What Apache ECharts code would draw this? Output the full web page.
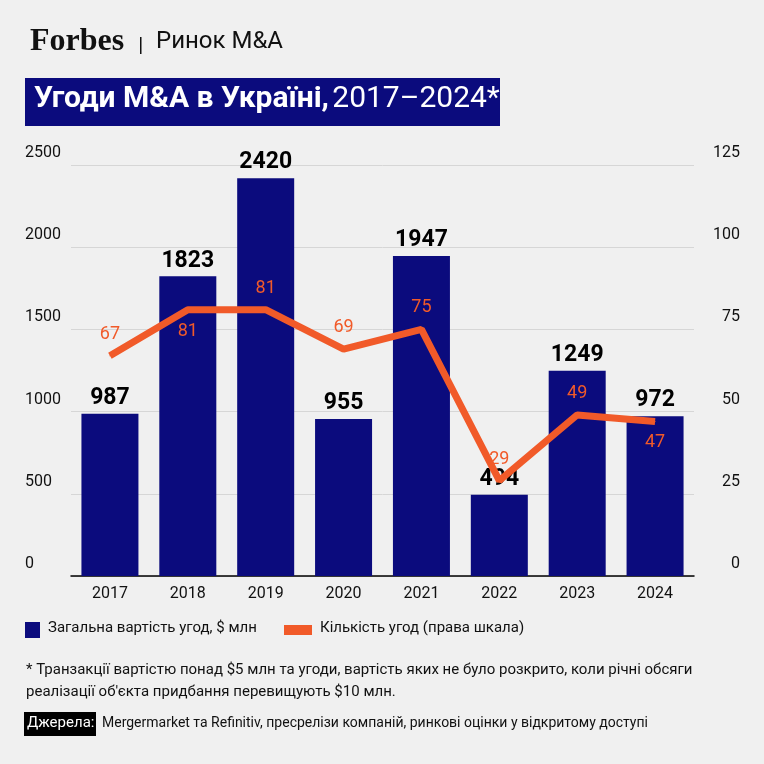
<!DOCTYPE html>
<html><head><meta charset="utf-8">
<script src="https://cdn.jsdelivr.net/npm/echarts@6/dist/echarts.min.js"></script>
<style>html,body{margin:0;background:#f0f0f0}#c{width:764px;height:764px}</style>
</head><body><div id="c"></div>
<script>
const years = ['2017','2018','2019','2020','2021','2022','2023','2024'];
const dealValue = [987, 1823, 2420, 955, 1947, 494, 1249, 972];
const dealCount = [67, 81, 81, 69, 75, 29, 49, 47];
const countLabelPos = ['top','bottom','top','top','top','top','top','bottom'];

const chart = echarts.init(document.getElementById('c'));
const F = 'Roboto, sans-serif';

chart.setOption({
  backgroundColor: '#f0f0f0',
  animation: false,
  grid: {left: 71, right: 70, top: 165, bottom: 188},
  xAxis: {
    type: 'category', data: years,
    axisLine: {lineStyle: {color: '#000', width: 1.5}},
    axisTick: {show: false},
    axisLabel: {color: '#111', fontSize: 16, fontFamily: F, margin: 10}
  },
  yAxis: [{
    type: 'value', min: 0, max: 2500, interval: 500,
    axisLabel: {color: '#111', fontSize: 16, fontFamily: F, align: 'left', margin: 46, verticalAlign: 'bottom', padding: [0,0,4,0], formatter: v => String(v)},
    splitLine: {lineStyle: {color: '#d6d6d6'}}
  }, {
    type: 'value', min: 0, max: 125, interval: 25,
    axisLabel: {color: '#111', fontSize: 16, fontFamily: F, align: 'right', margin: 46, verticalAlign: 'bottom', padding: [0,0,4,0]},
    splitLine: {show: false}
  }],
  series: [{
    type: 'bar', data: dealValue, barWidth: 57,
    itemStyle: {color: '#0b0b7d'},
    label: {show: true, position: 'top', distance: 4, color: '#000', fontSize: 23, fontWeight: 'bold', fontFamily: F}
  }, {
    type: 'line', yAxisIndex: 1, symbol: 'circle', symbolSize: 1, showSymbol: true,
    itemStyle: {color: '#f15a29'},
    data: dealCount.map((v, i) => ({value: v, label: {position: countLabelPos[i]}})),
    lineStyle: {color: '#f15a29', width: 7},
    label: {show: true, distance: 12, color: '#f15a29', fontSize: 18, fontFamily: F}
  }],
  graphic: [
    {type: 'text', left: 30, top: 26, style: {text: 'Forbes', font: 'bold 32px "Liberation Serif", serif', fill: '#111'}},
    {type: 'rect', left: 140, top: 37, shape: {width: 1.5, height: 17}, style: {fill: '#111'}},
    {type: 'text', left: 156, top: 30, style: {text: 'Ринок M&A', font: '24px Roboto, sans-serif', fill: '#111'}},
    {type: 'rect', left: 25, top: 78, shape: {width: 475, height: 48}, style: {fill: '#0b0b7d'}},
    {type: 'text', left: 34, top: 84, style: {rich: {
      b: {font: 'bold 30px Roboto, sans-serif', fill: '#fff'},
      r: {font: '30px Roboto, sans-serif', fill: '#fff'}
    }, text: '{b|Угоди M&A в Україні,} {r|2017–2024*}'}},
    {type: 'rect', left: 25, top: 622, shape: {width: 15, height: 16}, style: {fill: '#0b0b7d'}},
    {type: 'text', left: 48, top: 621, style: {text: 'Загальна вартість угод, $ млн', font: '15px Roboto, sans-serif', fill: '#111'}},
    {type: 'rect', left: 284, top: 625, shape: {width: 28, height: 10}, style: {fill: '#f15a29'}},
    {type: 'text', left: 320, top: 621, style: {text: 'Кількість угод (права шкала)', font: '15px Roboto, sans-serif', fill: '#111'}},
    {type: 'text', left: 26, top: 659, style: {text: '* Транзакції вартістю понад $5 млн та угоди, вартість яких не було розкрито, коли річні обсяги\nреалізації об\'єкта придбання перевищують $10 млн.', font: '15px Roboto, sans-serif', fill: '#111', lineHeight: 22}},
    {type: 'rect', left: 24, top: 712, shape: {width: 72, height: 24}, style: {fill: '#000'}},
    {type: 'text', left: 27, top: 716, style: {text: 'Джерела:', font: '15px Roboto, sans-serif', fill: '#fff'}},
    {type: 'text', left: 102, top: 716, style: {text: 'Mergermarket та Refinitiv, пресрелізи компаній, ринкові оцінки у відкритому доступі', font: '14px Roboto, sans-serif', fill: '#111'}}
  ]
});
</script></body></html>
